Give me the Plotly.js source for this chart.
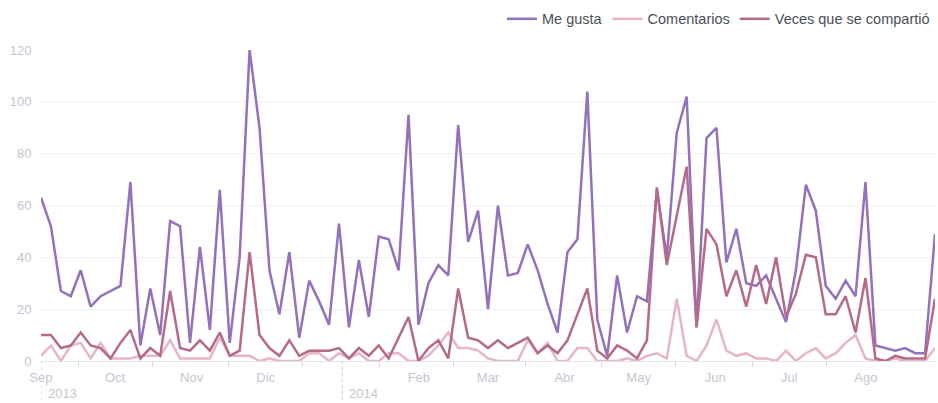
<!DOCTYPE html>
<html>
<head>
<meta charset="utf-8">
<script src="https://cdn.plot.ly/plotly-3.0.1.min.js"></script>
<style>html,body{margin:0;padding:0;background:#fff;}#chart{width:938px;height:403px;}</style>
</head>
<body>
<div id="chart"></div>
<script>
const dates = [
 "2013-09-01 00:00","2013-09-05 00:32","2013-09-09 01:04","2013-09-13 01:36","2013-09-17 02:08","2013-09-21 02:40","2013-09-25 03:12","2013-09-29 03:44",
 "2013-10-03 04:16","2013-10-07 04:48","2013-10-11 05:20","2013-10-15 05:52","2013-10-19 06:24","2013-10-23 06:56","2013-10-27 07:28","2013-10-31 08:00",
 "2013-11-04 08:32","2013-11-08 09:04","2013-11-12 09:36","2013-11-16 10:08","2013-11-20 10:40","2013-11-24 11:12","2013-11-28 11:44",
 "2013-12-02 12:16","2013-12-06 12:48","2013-12-10 13:20","2013-12-14 13:52","2013-12-18 14:24","2013-12-22 14:56","2013-12-26 15:28","2013-12-30 16:00",
 "2014-01-03 16:32","2014-01-07 17:04","2014-01-11 17:36","2014-01-15 18:08","2014-01-19 18:40","2014-01-23 19:12","2014-01-27 19:44","2014-01-31 20:16",
 "2014-02-04 20:48","2014-02-08 21:20","2014-02-12 21:52","2014-02-16 22:24","2014-02-20 22:56","2014-02-24 23:28",
 "2014-03-01 00:00","2014-03-05 00:32","2014-03-09 01:04","2014-03-13 01:36","2014-03-17 02:08","2014-03-21 02:40","2014-03-25 03:12","2014-03-29 03:44",
 "2014-04-02 04:16","2014-04-06 04:48","2014-04-10 05:20","2014-04-14 05:52","2014-04-18 06:24","2014-04-22 06:56","2014-04-26 07:28","2014-04-30 08:00",
 "2014-05-04 08:32","2014-05-08 09:04","2014-05-12 09:36","2014-05-16 10:08","2014-05-20 10:40","2014-05-24 11:12","2014-05-28 11:44",
 "2014-06-01 12:16","2014-06-05 12:48","2014-06-09 13:20","2014-06-13 13:52","2014-06-17 14:24","2014-06-21 14:56","2014-06-25 15:28","2014-06-29 16:00",
 "2014-07-03 16:32","2014-07-07 17:04","2014-07-11 17:36","2014-07-15 18:08","2014-07-19 18:40","2014-07-23 19:12","2014-07-27 19:44","2014-07-31 20:16",
 "2014-08-04 20:48","2014-08-08 21:20","2014-08-12 21:52","2014-08-16 22:24","2014-08-20 22:56","2014-08-24 23:28","2014-08-29 00:00"
];
const meGusta = [63,52,27,25,35,21,25,27,29,69,6,28,10,54,52,7,44,12,66,7,40,120,90,35,18,42,9,31,23,14,53,13,39,17,48,47,35,95,14,30,37,33,91,46,58,20,60,33,34,45,35,22,11,42,47,104,16,2,33,11,25,23,66,40,88,102,13,86,90,38,51,30,29,33,24,15,35,68,58,29,24,31,25,69,6,5,4,5,3,3,49];
const comentarios = [2,6,0,6,7,1,7,1,1,1,2,2,2,8,1,1,1,1,9,2,2,2,0,1,0,0,0,3,3,0,3,1,3,0,0,3,3,0,0,2,6,11,5,5,4,1,0,0,0,8,3,7,0,0,5,5,0,0,0,1,0,2,3,1,24,2,0,6,16,4,2,3,1,1,0,4,0,3,5,1,3,7,10,1,0,0,1,0,0,0,5];
const compartido = [10,10,5,6,11,6,5,1,7,12,1,5,2,27,5,4,8,4,11,2,4,42,10,5,2,8,2,4,4,4,5,1,5,2,6,1,9,17,0,5,8,1,28,9,8,5,8,5,7,9,3,6,3,8,18,28,4,1,6,4,1,8,67,37,56,75,13,51,45,25,35,21,37,22,40,17,26,41,40,18,18,25,11,32,1,0,2,1,1,1,24];

const seriesNames = ["Me gusta","Comentarios","Veces que se compartió"];
const monthTicks = ["2013-09-01","2013-10-01","2013-11-01","2013-12-01","2014-02-01","2014-03-01","2014-04-01","2014-05-01","2014-06-01","2014-07-01","2014-08-01"];
const monthLabels = ["Sep","Oct","Nov","Dic","Feb","Mar","Abr","May","Jun","Jul","Ago"];
const midTicks = ["2013-09-16","2013-10-16","2013-11-16","2013-12-16","2014-01-16","2014-02-15","2014-03-16","2014-04-16","2014-05-16","2014-06-16","2014-07-16"];
const yearStarts = ["2013-09-01","2014-01-01"];
const yearLabels = ["2013","2014"];

const tickGrey = "#c3c6cf";
const font = "Liberation Sans, Arial, Helvetica, sans-serif";

const traces = [
  {x: dates, y: meGusta, name: seriesNames[0], type: "scatter", mode: "lines", line: {color: "#9471bb", width: 2.5}},
  {x: dates, y: comentarios, name: seriesNames[1], type: "scatter", mode: "lines", line: {color: "#e5b5c9", width: 2.5}},
  {x: dates, y: compartido, name: seriesNames[2], type: "scatter", mode: "lines", line: {color: "#b56a8b", width: 2.5}}
];

const layout = {
  width: 938, height: 403,
  margin: {l: 41, r: 3, t: 47, b: 42, pad: 0},
  paper_bgcolor: "#fff", plot_bgcolor: "#fff",
  font: {family: font, size: 13, color: tickGrey},
  showlegend: true,
  legend: {orientation: "h", x: 1, xanchor: "right", y: 1.1, yanchor: "middle",
           font: {family: font, size: 14.5, color: "#4b4f56"}, itemwidth: 30, bgcolor: "rgba(0,0,0,0)", tracegroupgap: 0},
  xaxis: {
    type: "date", range: ["2013-09-01", "2014-08-29"],
    tickmode: "array", tickvals: monthTicks, ticktext: monthLabels,
    ticks: "outside", ticklen: 4, tickcolor: "rgba(0,0,0,0)",
    showgrid: false, zeroline: false,
    showline: true, linecolor: "#e3e5ea", linewidth: 1,
    tickfont: {family: font, size: 13, color: tickGrey},
    minor: {tickmode: "array", tickvals: midTicks, ticks: "outside", ticklen: 5, tickcolor: "#d6d9e0", tickwidth: 1, showgrid: false},
    fixedrange: true
  },
  yaxis: {
    range: [0, 120], tickmode: "array", tickvals: [0,20,40,60,80,100,120],
    ticks: "outside", ticklen: 6, tickcolor: "rgba(0,0,0,0)",
    showgrid: true, gridcolor: "#f0f1f3", gridwidth: 1,
    zeroline: false, showline: false,
    tickfont: {family: font, size: 13, color: tickGrey},
    fixedrange: true
  },
  shapes: yearStarts.map(d => ({type: "line", xref: "x", yref: "paper", x0: d, x1: d, y0: 0, y1: -0.127,
    line: {color: "#c9ccd4", width: 1, dash: "dot"}})),
  annotations: yearStarts.map((d, i) => ({text: yearLabels[i], x: d, xref: "x", y: -0.106, yref: "paper",
    xanchor: "left", yanchor: "middle", xshift: 5, showarrow: false,
    font: {family: font, size: 13, color: tickGrey}}))
};

Plotly.newPlot("chart", traces, layout, {staticPlot: true, displayModeBar: false});
</script>
</body>
</html>
